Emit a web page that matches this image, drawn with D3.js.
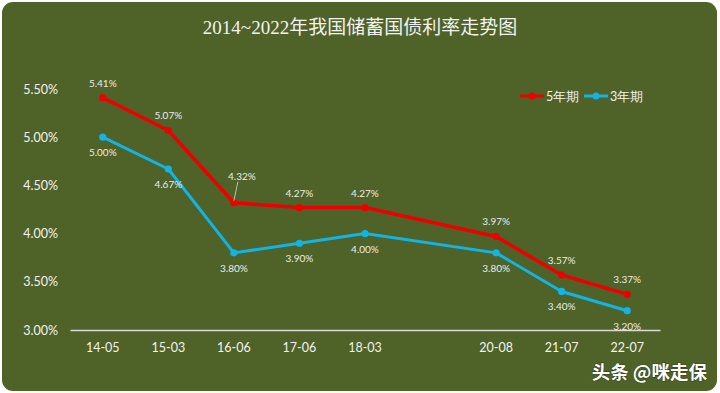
<!DOCTYPE html>
<html><head><meta charset="utf-8">
<script src="https://cdn.jsdelivr.net/npm/d3@7"></script>
<style>html,body{margin:0;padding:0;background:#fff;}svg{display:block;}</style>
</head><body>
<svg id="c" width="720" height="393"></svg>
<script>
const categories = ["14-05","15-03","16-06","17-06","18-03","","20-08","21-07","22-07"];
const rate5 = [5.41, 5.07, 4.32, 4.27, 4.27, null, 3.97, 3.57, 3.37];
const rate3 = [5.00, 4.67, 3.80, 3.90, 4.00, null, 3.80, 3.40, 3.20];
const yTicks = [3.0, 3.5, 4.0, 4.5, 5.0, 5.5];
const seriesNames = ["5年期", "3年期"];
const titleText = "2014~2022年我国储蓄国债利率走势图";

const svg = d3.select("#c");
const W = 720, H = 393;
const bg = "#4f6228";
svg.append("rect").attr("x",2).attr("y",2).attr("width",W-5).attr("height",H-4)
  .attr("rx",11).attr("fill",bg);

const x = d3.scaleBand().domain(d3.range(categories.length)).range([70,660]);
const y = d3.scaleLinear().domain([3.0,5.5]).range([330,89]);

svg.append("text").attr("x",360).attr("y",34).attr("text-anchor","middle")
  .attr("fill","#f2f2f2").attr("font-size",19)
  .attr("font-family","'Liberation Serif','Noto Sans CJK SC',serif").text(titleText);

const font = "Lato,'Open Sans','Noto Sans',sans-serif";
const yAxis = d3.axisLeft(y).tickValues(yTicks).tickSize(0).tickPadding(0)
  .tickFormat(d => d.toFixed(2) + "%");
const gy = svg.append("g").attr("transform","translate(58,0)").call(yAxis);
gy.select(".domain").remove();
gy.selectAll("text").attr("fill","#f2f2f2").attr("font-size",12.5).attr("font-family",font);

const xAxis = d3.axisBottom(x).tickSize(0).tickPadding(13).tickFormat(i => categories[i]);
const gx = svg.append("g").attr("transform","translate(0,330)").call(xAxis);
gx.select(".domain").attr("stroke","#d9d9d9").attr("stroke-width",1.5);
gx.selectAll("text").attr("fill","#f2f2f2").attr("font-size",12.5).attr("font-family",font);

const cx = i => x(i) + x.bandwidth()/2;
function drawSeries(vals, color, sw) {
  const pts = vals.map((v,i)=>({v,i})).filter(d=>d.v!==null);
  const line = d3.line().x(d=>cx(d.i)).y(d=>y(d.v));
  svg.append("path").datum(pts).attr("d",line).attr("fill","none")
    .attr("stroke",color).attr("stroke-width",sw).attr("stroke-linejoin","round");
  svg.append("g").selectAll("circle").data(pts).join("circle")
    .attr("cx",d=>cx(d.i)).attr("cy",d=>y(d.v)).attr("r",3.6).attr("fill",color);
  return pts;
}
const p5 = drawSeries(rate5, "#ee0000", 3.5);
const p3 = drawSeries(rate3, "#12b4e6", 3);

const lblFont = 10;
const lblColor = "#ececea";
svg.append("g").selectAll("text").data(p5).join("text")
  .attr("x",d=> d.i===2 ? cx(d.i)+8 : cx(d.i))
  .attr("y",d=> d.i===2 ? y(d.v)-23 : y(d.v)-11)
  .attr("text-anchor","middle").attr("fill",lblColor).attr("font-size",lblFont)
  .attr("font-family",font).text(d=>d.v.toFixed(2)+"%");
const lp = p5.find(d=>d.i===2);
svg.append("line").attr("x1",cx(lp.i)+4).attr("y1",y(lp.v)-21).attr("x2",cx(lp.i)).attr("y2",y(lp.v)-2)
  .attr("stroke","#d9d9d9").attr("stroke-width",0.8);

svg.append("g").selectAll("text").data(p3).join("text")
  .attr("x",d=>cx(d.i)).attr("y",d=>y(d.v)+19)
  .attr("text-anchor","middle").attr("fill",lblColor).attr("font-size",lblFont)
  .attr("font-family",font).text(d=>d.v.toFixed(2)+"%");

const legend = [{name:seriesNames[0], color:"#ee0000", x:520},{name:seriesNames[1], color:"#12b4e6", x:584}];
const lg = svg.append("g");
legend.forEach(l=>{
  lg.append("line").attr("x1",l.x).attr("x2",l.x+24).attr("y1",96).attr("y2",96)
    .attr("stroke",l.color).attr("stroke-width",3);
  lg.append("circle").attr("cx",l.x+12).attr("cy",96).attr("r",3.5).attr("fill",l.color);
  lg.append("text").attr("x",l.x+26).attr("y",100.5).attr("fill","#f2f2f2")
    .attr("font-size",12.5).attr("font-family",font).text(l.name);
});

svg.append("text").attr("x",707).attr("y",379).attr("text-anchor","end")
  .attr("fill","#ffffff").attr("font-size",18.5).attr("font-weight","bold")
  .attr("font-family","'Noto Sans CJK SC',sans-serif")
  .style("paint-order","stroke").attr("stroke","rgba(0,0,0,0.35)").attr("stroke-width",1.2)
  .text("头条 @咪走保");
</script>
</body></html>
